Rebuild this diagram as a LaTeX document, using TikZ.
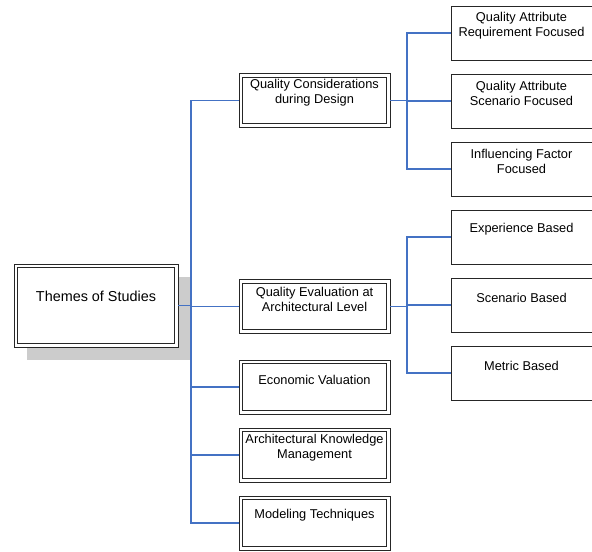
\documentclass[tikz,border=0pt]{standalone}
\usepackage{fontspec}
\setmainfont{Liberation Sans}
\usetikzlibrary{shapes,arrows}
\definecolor{linkblue}{RGB}{68,114,196}
\tikzstyle{inner frame} = [path picture={\draw[black!85, line width=0.7pt]
    ([shift={(2.7pt,-2.7pt)}]path picture bounding box.north west) rectangle
    ([shift={(-2.7pt,2.7pt)}]path picture bounding box.south east);}]
\tikzstyle{rootbox} = [rectangle, draw=black!85, line width=0.7pt, fill=white, inner frame,
    inner sep=0pt, minimum width=123pt, minimum height=62.25pt]
\tikzstyle{theme} = [rectangle, draw=black!85, line width=0.7pt, fill=white, inner frame,
    inner sep=0pt, minimum width=113.25pt, minimum height=40.5pt]
\tikzstyle{focus} = [rectangle, draw=black!85, line width=0.75pt, fill=white, inner sep=0pt,
    minimum width=105.75pt, minimum height=40.5pt]
\tikzstyle{lbl} = [anchor=center, yshift=-15pt, align=center,
    font=\fontsize{9.6}{11.25}\selectfont]
\tikzstyle{rootlbl} = [anchor=center, yshift=-24.5pt, font=\fontsize{10.8}{13}\selectfont]
\tikzstyle{line} = [draw, linkblue, line width=0.8pt]

\begin{document}
\begin{tikzpicture}[x=0.75pt, y=-0.75pt, node distance=51pt]
			\useasboundingbox (0,0) rectangle (592,551);
			% Shadow
			\fill [black!20] (27,277) rectangle (191,360);
			% Place nodes
			\node [rootbox, label={[rootlbl]north:Themes of Studies}] (themes) at (96,305.5) {};
			\node [theme, label={[lbl]north:Quality Considerations\\during Design}] (qcd) at (314.5,100.5) {};
			\node [theme, label={[lbl]north:Quality Evaluation at\\Architectural Level}] (qea) at (314.5,306.5) {};
			\node [theme, label={[lbl]north:Economic Valuation}] (ev) at (314.5,387) {};
			\node [theme, below of=ev, label={[lbl]north:Architectural Knowledge\\Management}] (akm) {};
			\node [theme, below of=akm, label={[lbl]north:Modeling Techniques}] (mt) {};
			\node [focus, label={[lbl]north:Quality Attribute\\Requirement Focused}] (qarf) at (521.5,33) {};
			\node [focus, below of=qarf, label={[lbl]north:Quality Attribute\\Scenario Focused}] (qasf) {};
			\node [focus, below of=qasf, label={[lbl]north:Influencing Factor\\Focused}] (iff) {};
			\node [focus, below of=iff, label={[lbl]north:Experience Based}] (eb) {};
			\node [focus, below of=eb, label={[lbl]north:Scenario Based}] (sb) {};
			\node [focus, below of=sb, label={[lbl]north:Metric Based}] (mb) {};
			\coordinate (trunk) at (191,0);
			\coordinate (fork) at (407,0);
			% Draw edges
			\path [line] (themes.east) -- (themes.east -| trunk);
			\path [line] (themes.east -| trunk) |- (qcd.west);
			\path [line] (themes.east -| trunk) |- (qea.west);
			\path [line] (themes.east -| trunk) |- (ev.west);
			\path [line] (themes.east -| trunk) |- (akm.west);
			\path [line] (themes.east -| trunk) |- (mt.west);
			\path [line] (qcd.east) -- (qcd.east -| fork);
			\path [line] (qcd.east -| fork) |- (qarf.west);
			\path [line] (qcd.east -| fork) |- (qasf.west);
			\path [line] (qcd.east -| fork) |- (iff.west);
			\path [line] (qea.east) -- (qea.east -| fork);
			\path [line] (qea.east -| fork) |- (eb.west);
			\path [line] (qea.east -| fork) |- (sb.west);
			\path [line] (qea.east -| fork) |- (mb.west);
	\end{tikzpicture}
\end{document}
